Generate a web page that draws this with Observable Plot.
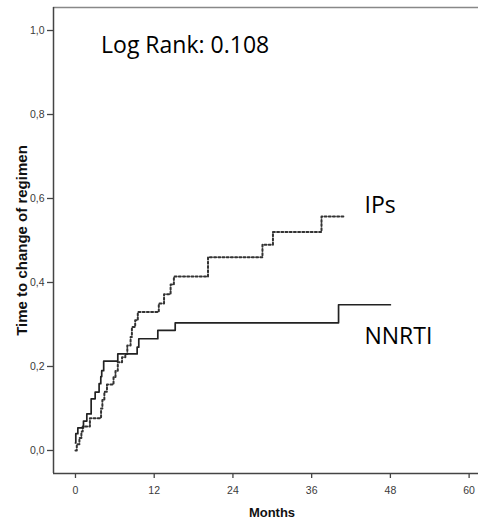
<!DOCTYPE html>
<html><head><meta charset="utf-8">
<script src="https://cdn.jsdelivr.net/npm/d3@7"></script>
<script src="https://cdn.jsdelivr.net/npm/@observablehq/plot@0.6"></script>
<style>html,body{margin:0;padding:0;background:#fff} svg{display:block}</style>
</head><body><div id="chart"></div>
<script>
// Kaplan-Meier style cumulative curves (months, cumulative proportion)
const nnrtiMonths = [0, 0.05, 0.36, 1.22, 1.73, 2.39, 3.0, 3.6, 3.86, 4.0, 4.3, 6.45, 9.4, 9.65, 12.55, 15.2, 40.1, 48.0];
const nnrtiRisk   = [0.018, 0.04, 0.054, 0.07, 0.087, 0.123, 0.139, 0.159, 0.176, 0.19, 0.213, 0.230, 0.246, 0.266, 0.286, 0.304, 0.347, 0.347];

const ipsMonths = [0, 0.2, 0.6, 0.9, 1.1, 2.2, 3.9, 4.1, 4.4, 4.8, 5.8, 6.1, 6.45, 7.1, 7.6, 7.9, 8.4, 8.6, 9.1, 9.5, 12.7, 13.5, 14.5, 15.0, 20.2, 28.5, 30.1, 37.5, 40.9];
const ipsRisk   = [0, 0.015, 0.03, 0.045, 0.057, 0.077, 0.10, 0.12, 0.14, 0.157, 0.175, 0.19, 0.21, 0.222, 0.23, 0.25, 0.27, 0.294, 0.31, 0.33, 0.35, 0.372, 0.395, 0.414, 0.46, 0.49, 0.52, 0.557, 0.557];

const monthTicks = [0, 12, 24, 36, 48, 60];
const riskTicks = [0, 0.2, 0.4, 0.6, 0.8, 1.0];

const noteText = ["Log Rank: 0.108", "IPs", "NNRTI"];
const noteMonth = [3.9, 44.05, 44.05];
const noteRisk = [0.963, 0.582, 0.272];

const xTitle = "Months";
const yTitle = "Time to change of regimen";

const xDomain = [-3.35, 61.43];
const yDomain = [-0.0548, 1.0548];

const nnrti = nnrtiMonths.map((m, i) => ({month: m, risk: nnrtiRisk[i]}));
const ips = ipsMonths.map((m, i) => ({month: m, risk: ipsRisk[i]}));
const notes = noteText.map((t, i) => ({text: t, month: noteMonth[i], risk: noteRisk[i]}));

const tickFont = "'Liberation Sans Narrow', 'Liberation Sans', Arial, sans-serif";

const chart = Plot.plot({
  width: 478, height: 520,
  marginLeft: 53, marginRight: 0, marginTop: 7, marginBottom: 47,
  style: {fontFamily: tickFont, fontSize: "10.5px", color: "#3a3a3a", background: "#fff"},
  x: {domain: xDomain, label: null},
  y: {domain: yDomain, label: null},
  marks: [
    Plot.axisX({ticks: monthTicks, tickSize: 5, tickPadding: 8, label: null, tickFormat: d => String(d), stroke: "#444", strokeWidth: 1.3}),
    Plot.axisY({ticks: riskTicks, tickSize: 6, tickPadding: 3, label: null, tickFormat: d => d.toFixed(1).replace(".", ","), stroke: "#444", strokeWidth: 1.3}),
    Plot.ruleY([yDomain[1]], {stroke: "#888", strokeWidth: 1.3}),
    Plot.ruleX([xDomain[0]], {stroke: "#444", strokeWidth: 1.5}),
    Plot.ruleY([yDomain[0]], {stroke: "#444", strokeWidth: 1.5}),
    Plot.line(ips, {x: "month", y: "risk", curve: "step-after", stroke: "#333", strokeWidth: 2, strokeDasharray: "2,2.2"}),
    Plot.line(nnrti, {x: "month", y: "risk", curve: "step-after", stroke: "#222", strokeWidth: 1.7}),
    Plot.text(notes, {x: "month", y: "risk", text: "text", textAnchor: "start", lineAnchor: "middle", fontSize: 23, fill: "#000", fontFamily: "'Open Sans', sans-serif"}),
    Plot.text([yTitle], {frameAnchor: "left", rotate: -90, dx: -31, textAnchor: "middle", lineAnchor: "middle", fontWeight: "bold", fontSize: 15, fill: "#111", fontFamily: "'Liberation Sans', Arial, sans-serif"}),
    Plot.text([xTitle], {frameAnchor: "bottom", dx: 6, dy: 39, textAnchor: "middle", lineAnchor: "middle", fontWeight: "bold", fontSize: 13, fill: "#111", fontFamily: "'Liberation Sans', Arial, sans-serif"})
  ]
});
document.getElementById("chart").appendChild(chart);
</script>
</body></html>
